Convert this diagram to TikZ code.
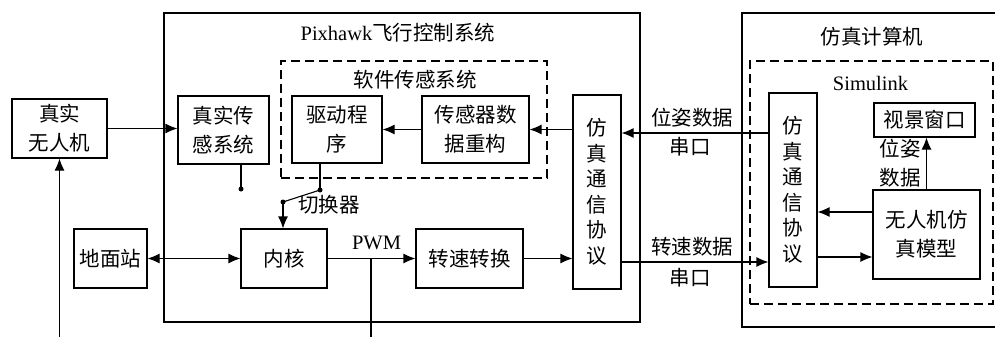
\documentclass[tikz,border=0pt]{standalone}
\usepackage{fontspec}
\setmainfont{Liberation Serif}
\newfontfamily\cjk{Noto Sans CJK SC}
\usetikzlibrary{arrows.meta}
\begin{document}
\begin{tikzpicture}[x=1pt,y=-1pt,
 every node/.style={font=\cjk\fontsize{20.5}{29}\selectfont, inner sep=0pt, align=center},
 box/.style={draw, line width=1.1pt},
 arr/.style={line width=1.1pt, -{Latex[length=12pt,width=10pt]}},
 arrtwo/.style={line width=1.1pt, {Latex[length=12pt,width=10pt]}-{Latex[length=12pt,width=10pt]}},
 ln/.style={line width=1.1pt},
 dashbox/.style={draw, line width=1.5pt, dash pattern=on 9pt off 5pt},
 dotnode/.style={circle, fill, minimum size=5pt, inner sep=0pt},
 vtext/.style={font=\cjk\fontsize{20.5}{25.5}\selectfont},
 latin/.style={font=\rmfamily\fontsize{20.5}{24}\selectfont}
]
\useasboundingbox (0,0) rectangle (995,337);
% frames
\node[box, minimum width=476pt, minimum height=309pt] (pix) at (402,167.5) {};
\node[dashbox, minimum width=266pt, minimum height=117pt] (soft) at (414,119.5) {};
\node[box, minimum width=268pt, minimum height=314pt] (simc) at (876,170) {};
\node[dashbox, minimum width=243pt, minimum height=243pt] (simk) at (871.5,182.5) {};
% titles
\node (tpix) at (398,33) {{\rmfamily\fontsize{20.5}{24}\selectfont Pixhawk}飞行控制系统};
\node (tsoft) at (415,80) {软件传感系统};
\node (tsimc) at (872,37) {仿真计算机};
\node[latin] (tsimk) at (870.5,83) {Simulink};
% boxes
\node[box, minimum width=95pt, minimum height=59pt] (uav) at (59.5,128.5) {真实\\无人机};
\node[box, minimum width=91pt, minimum height=68pt] (rss) at (223.5,130) {真实传\\感系统};
\node[box, minimum width=90pt, minimum height=67pt] (drv) at (337,129.5) {驱动程\\序};
\node[box, minimum width=107pt, minimum height=67pt] (rec) at (475.5,129.5) {传感器数\\据重构};
\node[box, vtext, minimum width=48pt, minimum height=194pt] (proto1) at (597,192) {仿\\真\\通\\信\\协\\议};
\node[box, minimum width=73pt, minimum height=59pt] (gcs) at (110.5,258.5) {地面站};
\node[box, minimum width=86pt, minimum height=59pt] (core) at (284,258.5) {内核};
\node[box, minimum width=107pt, minimum height=59pt] (rpm) at (469.5,258.5) {转速转换};
\node[box, vtext, minimum width=48pt, minimum height=194pt] (proto2) at (793,190) {仿\\真\\通\\信\\协\\议};
\node[box, minimum width=101pt, minimum height=34pt] (view) at (924.5,120) {视景窗口};
\node[box, minimum width=107pt, minimum height=89pt] (model) at (926.5,234.5) {无人机仿\\真模型};
% helper coordinates
\coordinate (b1) at (59.5,337);
\coordinate (d1) at (241,189);
\coordinate (d2) at (320,190);
\coordinate (d3) at (283,202);
\coordinate (p1) at (371,258.5);
\coordinate (p2) at (371,337);
\coordinate (y133) at (0,133);
\coordinate (y262) at (0,262);
\coordinate (y212) at (0,212);
\coordinate (y257) at (0,257);
% connectors
\draw[arr] (uav.east) -- (uav.east -| rss.west);
\draw[arr] (b1) -- (uav.south);
\draw[arrtwo] (gcs.east) -- (core.west);
\draw[ln] (rss.south -| d1) -- (d1);
\node[dotnode] (dot1) at (d1) {};
\draw[ln] (drv.south -| d2) -- (d2);
\node[dotnode] (dot2) at (d2) {};
\draw[ln] (d2) -- (d3);
\node[dotnode] (dot3) at (d3) {};
\draw[arr] (d3) -- (d3 |- core.north);
\node (tsw) at (329,205) {切换器};
\draw[arr] (core.east) -- (rpm.west);
\draw[ln] (p1) -- (p2);
\node[latin] (tpwm) at (376.5,243) {PWM};
\draw[arr] (rpm.east) -- (rpm.east -| proto1.west);
\draw[arr] (proto1.west |- rec.east) -- (rec.east);
\draw[arr] (rec.west) -- (drv.east);
\draw[arr] (proto2.west |- y133) -- (proto1.east |- y133);
\draw[arr] (proto1.east |- y262) -- (proto2.west |- y262);
\draw[arr] (model.west |- y212) -- (proto2.east |- y212);
\draw[arr] (proto2.east |- y257) -- (model.west |- y257);
\draw[arr] (model.north) -- (model.north |- view.south);
% labels
\node (tpos1) at (692,118) {位姿数据};
\node (tser1) at (690,147) {串口};
\node (tspd) at (692,247) {转速数据};
\node (tser2) at (690,278) {串口};
\node (tpos2) at (900,163) {位姿\\数据};
\end{tikzpicture}
\end{document}
